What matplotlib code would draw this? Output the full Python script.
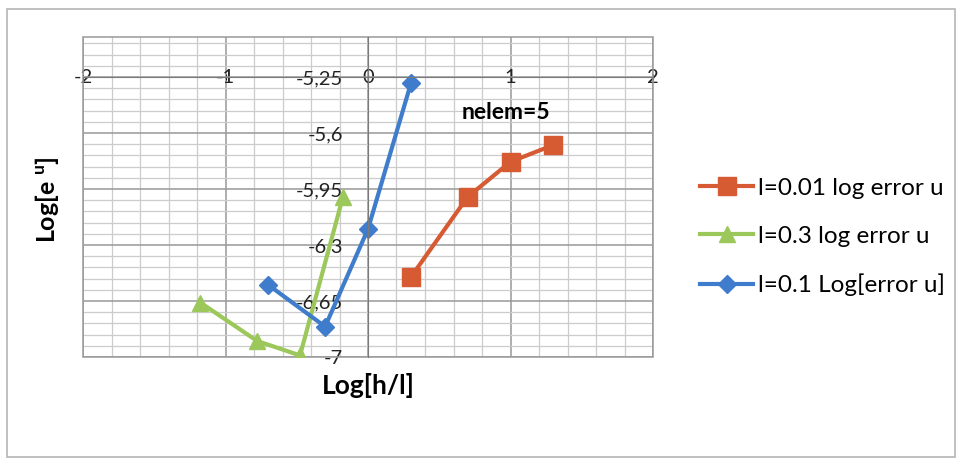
import matplotlib.pyplot as plt
import numpy as np
from matplotlib.patches import Rectangle

plt.rcParams['font.family'] = ['Lato', 'DejaVu Sans']

# log[h/l] and log[error u] for each run
x_l001 = [0.301, 0.699, 1.0, 1.301]
y_l001 = [-6.50, -6.00, -5.78, -5.675]

x_l03 = [-1.176, -0.778, -0.477, -0.176]
y_l03 = [-6.66, -6.90, -6.99, -6.00]

x_l01 = [-0.699, -0.301, 0.0, 0.301]
y_l01 = [-6.55, -6.81, -6.20, -5.29]

x_ticks = [-2, -1, 0, 1, 2]
x_tick_labels = ['-2', '-1', '0', '1', '2']
y_ticks = [-7, -6.65, -6.3, -5.95, -5.6, -5.25]
y_tick_labels = ['-7', '-6,65', '-6,3', '-5,95', '-5,6', '-5,25']

fig = plt.figure(figsize=(9.63, 4.65), dpi=100)
ax = fig.add_axes([83 / 963, 1 - 357 / 465, 570 / 963, 320 / 465])

# chart border
fig.patches.append(Rectangle((7 / 963, 8 / 465), 948 / 963, 448 / 465,
                             transform=fig.transFigure, fill=False,
                             edgecolor='#b5b5b5', lw=1.2))

ax.plot(x_l001, y_l001, color='#d65a32', lw=3, marker='s', markersize=13,
        label='l=0.01 log error u')
ax.plot(x_l03, y_l03, color='#9cc75a', lw=3, marker='^', markersize=12,
        label='l=0.3 log error u')
ax.plot(x_l01, y_l01, color='#3f7dcc', lw=3, marker='D', markersize=9,
        label='l=0.1 Log[error u]')

ax.set_xlim(-2, 2)
ax.set_ylim(-7, -5.0)

# grid
ax.set_xticks(np.arange(-2, 2.01, 0.2), minor=True)
ax.set_yticks(np.arange(-7, -4.99, 0.07), minor=True)
ax.set_xticks(x_ticks, x_tick_labels)
ax.set_yticks(y_ticks, y_tick_labels)
ax.grid(which='minor', color='#cccccc', lw=0.9)
ax.grid(which='major', color='#999999', lw=1.1)
ax.set_axisbelow(True)

for s in ['top', 'right']:
    ax.spines[s].set_visible(False)
ax.spines['left'].set_position(('data', 0))
ax.spines['bottom'].set_position(('data', -5.25))
ax.spines['left'].set_color('#7a7a7a')
ax.spines['bottom'].set_color('#7a7a7a')
ax.add_patch(Rectangle((0, 0), 1, 1, transform=ax.transAxes, fill=False,
                       edgecolor='#999999', lw=1.1, clip_on=False))

ax.tick_params(axis='x', which='major', length=4, direction='inout', pad=-8,
               labelsize=14.5, colors='#222222')
ax.tick_params(axis='y', which='major', length=0, pad=18, labelsize=14.5,
               colors='#222222')
ax.tick_params(which='minor', length=0)

ax.text(0.97, -5.475, 'nelem=5', fontsize=16.5, fontweight='bold',
        ha='center', va='center')

fig.text(368 / 963, 1 - 385 / 465, 'Log[h/l]', fontsize=19, fontweight='bold',
         ha='center', va='center')
fig.text(47 / 963, 1 - 200 / 465, r'Log[e $^{\mathregular{u}}$]', fontsize=18,
         fontweight='bold', rotation=90, ha='center', va='center')

fig.legend(loc='center left', bbox_to_anchor=(700 / 963, 1 - 237 / 465),
           frameon=False, fontsize=17.5, handlelength=2.2, handletextpad=0.2,
           labelspacing=1.1, borderpad=0, borderaxespad=0)

fig.savefig('out.png', dpi=100)
